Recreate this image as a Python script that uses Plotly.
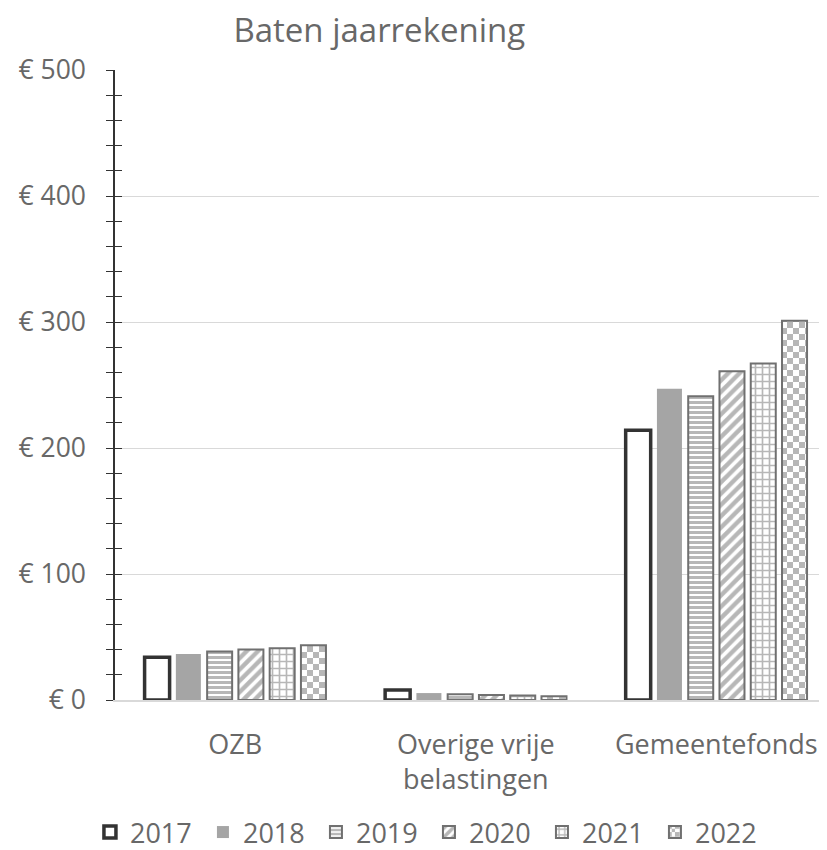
import plotly.graph_objects as go

categories = ["OZB", "Overige vrije<br>belastingen", "Gemeentefonds"]
years = ["2017", "2018", "2019", "2020", "2021", "2022"]
v2017 = [34, 8, 214]
v2018 = [36.5, 5.5, 247]
v2019 = [38.5, 4.5, 241]
v2020 = [40, 4, 261]
v2021 = [41, 3.5, 267]
v2022 = [43.5, 3, 301]
series = [v2017, v2018, v2019, v2020, v2021, v2022]

y_ticks = [0, 100, 200, 300, 400, 500]
y_labels = ["€ 0", "€ 100", "€ 200", "€ 300", "€ 400", "€ 500"]

FG = "#707070"
TXT = "#686868"

checker = dict(shape=".", fgcolor=FG, bgcolor="white", size=12, solidity=0.7)
try:
    go.bar.marker.Pattern(path="M0,0H6V6H0Z M6,6H12V12H6Z")
    checker = dict(path="M0,0H6V6H0Z M6,6H12V12H6Z", fgcolor=FG, bgcolor="white", size=12, solidity=1)
except Exception:
    pass

styles = [
    dict(color="white", line=dict(color="#333333", width=3.5), pattern=dict(shape="")),
    dict(color="#a5a5a5", line=dict(color="#a5a5a5", width=0), pattern=dict(shape="")),
    dict(color="white", line=dict(color=FG, width=2), pattern=dict(shape="-", fgcolor=FG, bgcolor="white", size=5, solidity=0.6)),
    dict(color="white", line=dict(color=FG, width=2), pattern=dict(shape="/", fgcolor=FG, bgcolor="white", size=8, solidity=0.55)),
    dict(color="white", line=dict(color=FG, width=2), pattern=dict(shape="+", fgcolor=FG, bgcolor="white", size=7, solidity=0.42)),
    dict(color="white", line=dict(color=FG, width=2), pattern=checker),
]

fig = go.Figure()
for yr, vals, st in zip(years, series, styles):
    fig.add_trace(go.Bar(name=yr, x=categories, y=vals, marker=st))

fig.add_trace(go.Scatter(x=categories, y=[None]*3, yaxis="y2", showlegend=False, hoverinfo="skip"))

common_y = dict(range=[0, 500], tickvals=y_ticks, automargin=False)
fig.update_layout(
    width=827, height=850,
    paper_bgcolor="white", plot_bgcolor="white",
    font=dict(family="Open Sans", size=27, color=TXT),
    title=dict(text="Baten jaarrekening", xref="container", x=0.449, xanchor="center",
               yref="container", y=0.974, yanchor="middle", font=dict(size=33, color=TXT)),
    margin=dict(l=107, r=8, t=62, b=158),
    barmode="group", bargap=0.22, bargroupgap=0.2,
    xaxis=dict(showline=True, linecolor="#d9d9d9", linewidth=1.5, ticks="", showgrid=False,
               range=[-0.5, 2.46],
               automargin=False, ticklabelstandoff=20, tickfont=dict(size=27, color=TXT)),
    yaxis=dict(**common_y, ticktext=y_labels, showgrid=True, gridcolor="#d9d9d9", gridwidth=1.3,
               showline=True, linecolor="#333333", linewidth=1.5, ticks="outside", ticklen=7,
               tickcolor="#333333", tickwidth=1.3, ticklabelstandoff=15, zeroline=False,
               minor=dict(dtick=20, ticks="outside", ticklen=7, tickcolor="#333333", tickwidth=1.3),
               tickfont=dict(size=26.5, color=TXT)),
    yaxis2=dict(**common_y, overlaying="y", side="left", showticklabels=False, showgrid=False,
                ticks="inside", ticklen=7, tickcolor="#333333", tickwidth=1.3, zeroline=False,
                minor=dict(dtick=20, ticks="inside", ticklen=7, tickcolor="#333333", tickwidth=1.3)),
    legend=dict(orientation="h", xref="container", x=0.509, xanchor="center",
                yref="container", y=0.03, yanchor="middle",
                font=dict(size=27, color=TXT), entrywidth=68, entrywidthmode="pixels"),
    showlegend=True,
)

fig.write_html("out.html")
